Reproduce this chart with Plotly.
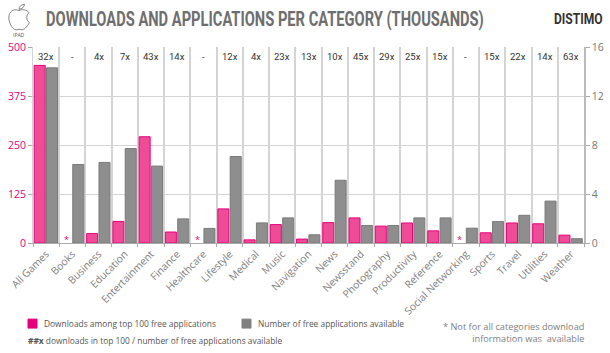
import plotly.graph_objects as go

categories = ["All Games", "Books", "Business", "Education", "Entertainment", "Finance", "Healthcare",
              "Lifestyle", "Medical", "Music", "Navigation", "News", "Newsstand", "Photography",
              "Productivity", "Reference", "Social Networking", "Sports", "Travel", "Utilities", "Weather"]
downloads = [453, None, 24, 55, 271, 28, None, 87, 8, 47, 10, 52, 64, 43, 51, 31, None, 26, 51, 49, 20]
applications = [14.3, 6.41, 6.58, 7.71, 6.28, 1.97, 1.19, 7.06, 1.64, 2.05, 0.67, 5.12, 1.43, 1.43,
                2.05, 2.05, 1.21, 1.75, 2.26, 3.42, 0.35]
ratios = ["32x", "-", "4x", "7x", "43x", "14x", "-", "12x", "4x", "23x", "13x", "10x", "45x", "29x",
          "25x", "15x", "-", "15x", "22x", "14x", "63x"]
missing = ["Books", "Healthcare", "Social Networking"]
left_ticks = [0, 125, 250, 375, 500]
right_ticks = [0, 4, 8, 12, 16]
title_text = "DOWNLOADS AND APPLICATIONS PER CATEGORY (THOUSANDS)"

PINK = "#e6007e"
GREY = "#808080"
HEAD = "Roboto"
BODY = "Open Sans"
GRID = "#d4d4d4"

W, H = 610.0, 353.0
L, R, T, B = 33.0, 584.0, 46.5, 243.5


def fx(x):
    return (x - L) / (R - L)


def fy(y):
    return (B - y) / (B - T)


def px(x, y, text, size, color, family=BODY, anchor="left", weight=400):
    return dict(x=fx(x), y=fy(y), xref="paper", yref="paper", xanchor=anchor, yanchor="middle",
                text=text, showarrow=False,
                font=dict(family=family, size=size, color=color, weight=weight))


idx = {c: i for i, c in enumerate(categories)}

fig = go.Figure()
fig.add_bar(x=categories, y=downloads, name="Downloads among top 100 free applications",
            width=0.42, offset=-0.455,
            marker=dict(color="#ee4c97", line=dict(color=PINK, width=1)), yaxis="y")
fig.add_bar(x=categories, y=applications, name="Number of free applications available",
            width=0.42, offset=0.015,
            marker=dict(color="#8e8e8e", line=dict(color="#7a7a7a", width=1)), yaxis="y2")

ann = []
for c, r in zip(categories, ratios):
    ann.append(dict(x=idx[c], y=fy(56.5), xref="x", yref="paper", yanchor="middle", text=r,
                    showarrow=False, font=dict(family=HEAD, size=9.5, color="#333333")))
for c in missing:
    ann.append(dict(x=idx[c] - 0.24, y=10, xref="x", yref="y", yanchor="middle", text="*", showarrow=False,
                    font=dict(family=BODY, size=9, color=PINK)))

footnote = px(586, 333.5, "* Not for all categories download<br>information was  available", 9.2, "#808080", anchor="right")
footnote["align"] = "right"

ann += [
    px(265, 21, title_text, 14, "#6e6e6e", HEAD, anchor="center", weight=700),
    px(19, 34.5, "IPAD", 5, "#555555", BODY, anchor="center"),
    px(578.5, 20, "DISTIMO", 11, "#333333", HEAD, anchor="center", weight=700),
    px(42, 324.5, "Downloads among top 100 free applications", 8.4, "#555555"),
    px(256, 324.5, "Number of free applications available", 8.4, "#555555"),
    px(26, 341.5, "<b>##x</b> downloads in top 100 / number of free applications available", 8.4, "#555555"),
    footnote,
]


def rect(x0, y0, x1, y1, fill, line):
    return dict(type="rect", xref="paper", yref="paper", x0=fx(x0), x1=fx(x1), y0=fy(y0), y1=fy(y1),
                fillcolor=fill, line=dict(color=line, width=1), layer="above")


def logo(points):
    out = []
    for c, vals in points:
        coords = [f"{fx(v) if i % 2 == 0 else fy(v):.5f}" for i, v in enumerate(vals)]
        pairs = [coords[i] + " " + coords[i + 1] for i in range(0, len(coords), 2)]
        out.append(c + " " + ", ".join(pairs))
    return " ".join(out)


apple = [("M", [19, 10]), ("C", [16, 8, 10, 9, 9, 15]), ("C", [8, 21, 12, 28, 15, 29]),
         ("C", [17, 30, 19, 28, 21, 29]), ("C", [24, 30, 27, 26, 29.5, 22]),
         ("C", [26, 20, 26, 14, 29, 12]), ("C", [27, 9, 22, 8, 19, 10]), ("Z", [])]
leaf = [("M", [19, 8.5]), ("C", [19, 6, 21, 4, 24.5, 3.5]), ("C", [24.5, 6, 22, 8.5, 19, 8.5]), ("Z", [])]

shapes = [
    rect(28, 320, 37, 329, PINK, PINK),
    rect(242, 320, 251, 329, GREY, GREY),
    dict(type="path", xref="paper", yref="paper", path=logo(apple), line=dict(color="#666666", width=0.8)),
    dict(type="path", xref="paper", yref="paper", path=logo(leaf), line=dict(color="#666666", width=0.8)),
]

fig.update_layout(
    width=610, height=353, autosize=False,
    margin=dict(l=L, r=W - R, t=T, b=H - B, pad=0, autoexpand=False),
    paper_bgcolor="white", plot_bgcolor="white",
    barmode="overlay", showlegend=False,
    xaxis=dict(type="category", categoryorder="array", categoryarray=categories, tickson="boundaries",
               range=[-0.5, 20.5], tickangle=-45, showgrid=True, gridcolor=GRID, gridwidth=1.6, automargin=False,
               ticks="outside", ticklen=3, tickcolor="#aaaaaa", showline=True, linecolor="#aaaaaa", linewidth=1,
               tickfont=dict(family=BODY, size=10.3, color="#808080")),
    yaxis=dict(range=[0, 500], tickvals=left_ticks, showgrid=True, gridcolor=GRID, gridwidth=1.4, automargin=False,
               ticks="outside", ticklen=4, tickcolor="#aaaaaa", showline=True, linecolor=GRID, zeroline=False,
               tickfont=dict(family=BODY, size=10.5, color=PINK)),
    yaxis2=dict(range=[0, 16], tickvals=right_ticks, overlaying="y", side="right", showgrid=False, automargin=False,
                ticks="outside", ticklen=4, tickcolor="#aaaaaa", showline=True, linecolor="#bbbbbb", linewidth=1.5,
                zeroline=False, tickfont=dict(family=BODY, size=10.5, color="#777777")),
    annotations=ann, shapes=shapes,
)

post = """
document.body.style.margin='0';document.body.style.overflow='hidden';
var fit={'%s':[438,20],'DISTIMO':[49,14]};
document.querySelectorAll('text.annotation-text').forEach(function(t){
  var f=fit[t.textContent];
  if(f){
    var cx0=t.getBBox(); cx0=cx0.x+cx0.width/2;
    t.style.fontSize=f[1]+'px';
    var b=t.getBBox(), s=f[0]/b.width, cx=b.x+b.width/2;
    t.setAttribute('transform','translate('+cx0+',0) scale('+s+',1) translate('+(-cx)+',0)');
  }
});
""" % title_text
fig.write_html("out.html", post_script=post, config={"displayModeBar": False})
